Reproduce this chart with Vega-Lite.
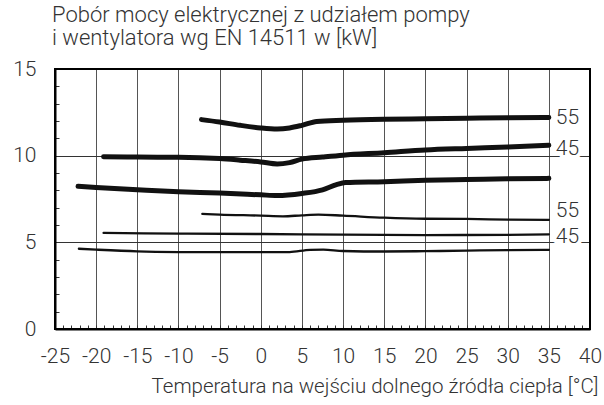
{
  "$schema": "https://vega.github.io/schema/vega-lite/v6.json",
  "width": 535,
  "height": 260,
  "autosize": {"type": "none"},
  "padding": {"left": 55, "top": 69, "right": 14, "bottom": 76},
  "background": "white",
  "title": {
    "text": ["Pobór mocy elektrycznej z udziałem pompy", "i wentylatora wg EN 14511 w [kW]"],
    "anchor": "start",
    "frame": "group",
    "fontSize": 22,
    "fontWeight": 300,
    "font": "Roboto",
    "color": "#333",
    "lineHeight": 23,
    "offset": 8,
    "dx": -3
  },
  "datasets": {
    "curves": [
      {"series": "A", "group": "thick", "x": -7.2, "y": 12.08},
      {"series": "A", "group": "thick", "x": -5, "y": 11.94},
      {"series": "A", "group": "thick", "x": -2.5, "y": 11.75},
      {"series": "A", "group": "thick", "x": 0, "y": 11.6},
      {"series": "A", "group": "thick", "x": 2, "y": 11.54},
      {"series": "A", "group": "thick", "x": 3.5, "y": 11.6},
      {"series": "A", "group": "thick", "x": 5, "y": 11.75},
      {"series": "A", "group": "thick", "x": 6.8, "y": 11.97},
      {"series": "A", "group": "thick", "x": 10, "y": 12.04},
      {"series": "A", "group": "thick", "x": 15, "y": 12.1},
      {"series": "A", "group": "thick", "x": 20, "y": 12.13},
      {"series": "A", "group": "thick", "x": 25, "y": 12.16},
      {"series": "A", "group": "thick", "x": 30, "y": 12.19},
      {"series": "A", "group": "thick", "x": 35, "y": 12.2},

      {"series": "B", "group": "thick", "x": -19.1, "y": 9.94},
      {"series": "B", "group": "thick", "x": -15, "y": 9.92},
      {"series": "B", "group": "thick", "x": -10, "y": 9.91},
      {"series": "B", "group": "thick", "x": -5, "y": 9.83},
      {"series": "B", "group": "thick", "x": -2.5, "y": 9.74},
      {"series": "B", "group": "thick", "x": 0, "y": 9.64},
      {"series": "B", "group": "thick", "x": 2, "y": 9.52},
      {"series": "B", "group": "thick", "x": 3.5, "y": 9.6},
      {"series": "B", "group": "thick", "x": 5, "y": 9.8},
      {"series": "B", "group": "thick", "x": 7.5, "y": 9.92},
      {"series": "B", "group": "thick", "x": 10, "y": 10.03},
      {"series": "B", "group": "thick", "x": 15, "y": 10.17},
      {"series": "B", "group": "thick", "x": 20, "y": 10.33},
      {"series": "B", "group": "thick", "x": 25, "y": 10.42},
      {"series": "B", "group": "thick", "x": 30, "y": 10.5},
      {"series": "B", "group": "thick", "x": 35, "y": 10.6},

      {"series": "C", "group": "thick", "x": -22.2, "y": 8.23},
      {"series": "C", "group": "thick", "x": -20, "y": 8.17},
      {"series": "C", "group": "thick", "x": -15, "y": 8.04},
      {"series": "C", "group": "thick", "x": -10, "y": 7.92},
      {"series": "C", "group": "thick", "x": -5, "y": 7.84},
      {"series": "C", "group": "thick", "x": 0, "y": 7.74},
      {"series": "C", "group": "thick", "x": 2, "y": 7.7},
      {"series": "C", "group": "thick", "x": 5, "y": 7.82},
      {"series": "C", "group": "thick", "x": 7.5, "y": 8.03},
      {"series": "C", "group": "thick", "x": 9.2, "y": 8.33},
      {"series": "C", "group": "thick", "x": 10.3, "y": 8.45},
      {"series": "C", "group": "thick", "x": 15, "y": 8.5},
      {"series": "C", "group": "thick", "x": 20, "y": 8.58},
      {"series": "C", "group": "thick", "x": 25, "y": 8.62},
      {"series": "C", "group": "thick", "x": 30, "y": 8.67},
      {"series": "C", "group": "thick", "x": 35, "y": 8.69},

      {"series": "D", "group": "thin", "x": -7.1, "y": 6.64},
      {"series": "D", "group": "thin", "x": -5, "y": 6.6},
      {"series": "D", "group": "thin", "x": 0, "y": 6.54},
      {"series": "D", "group": "thin", "x": 2.7, "y": 6.5},
      {"series": "D", "group": "thin", "x": 5, "y": 6.56},
      {"series": "D", "group": "thin", "x": 7, "y": 6.6},
      {"series": "D", "group": "thin", "x": 10, "y": 6.54},
      {"series": "D", "group": "thin", "x": 15, "y": 6.42},
      {"series": "D", "group": "thin", "x": 20, "y": 6.36},
      {"series": "D", "group": "thin", "x": 25, "y": 6.35},
      {"series": "D", "group": "thin", "x": 30, "y": 6.31},
      {"series": "D", "group": "thin", "x": 35, "y": 6.29},

      {"series": "E", "group": "thin", "x": -19.1, "y": 5.54},
      {"series": "E", "group": "thin", "x": -10, "y": 5.5},
      {"series": "E", "group": "thin", "x": 0, "y": 5.48},
      {"series": "E", "group": "thin", "x": 10, "y": 5.44},
      {"series": "E", "group": "thin", "x": 20, "y": 5.42},
      {"series": "E", "group": "thin", "x": 30, "y": 5.43},
      {"series": "E", "group": "thin", "x": 35, "y": 5.46},

      {"series": "F", "group": "thin", "x": -22.1, "y": 4.63},
      {"series": "F", "group": "thin", "x": -20, "y": 4.58},
      {"series": "F", "group": "thin", "x": -15, "y": 4.48},
      {"series": "F", "group": "thin", "x": -10, "y": 4.44},
      {"series": "F", "group": "thin", "x": -5, "y": 4.43},
      {"series": "F", "group": "thin", "x": 0, "y": 4.43},
      {"series": "F", "group": "thin", "x": 3.5, "y": 4.44},
      {"series": "F", "group": "thin", "x": 6, "y": 4.57},
      {"series": "F", "group": "thin", "x": 7.6, "y": 4.58},
      {"series": "F", "group": "thin", "x": 10, "y": 4.5},
      {"series": "F", "group": "thin", "x": 15, "y": 4.47},
      {"series": "F", "group": "thin", "x": 20, "y": 4.49},
      {"series": "F", "group": "thin", "x": 25, "y": 4.52},
      {"series": "F", "group": "thin", "x": 30, "y": 4.55},
      {"series": "F", "group": "thin", "x": 35, "y": 4.56}
    ],
    "labels": [
      {"label": "55", "x": 35, "y": 12.2},
      {"label": "45", "x": 35, "y": 10.4},
      {"label": "55", "x": 35, "y": 6.83},
      {"label": "45", "x": 35, "y": 5.31}
    ],
    "frame": [
      {"x0": -25, "x1": 40, "y0": 0, "y1": 15}
    ]
  },
  "layer": [
    {
      "data": {"name": "curves"},
      "transform": [{"filter": "datum.group === 'thick'"}],
      "mark": {"type": "line", "interpolate": "monotone", "strokeCap": "round", "strokeJoin": "round", "color": "#111", "strokeWidth": 5},
      "encoding": {
        "x": {
          "field": "x", "type": "quantitative",
          "scale": {"domain": [-25, 40], "nice": false, "zero": false},
          "axis": {
            "values": [-25,-24,-23,-22,-21,-20,-19,-18,-17,-16,-15,-14,-13,-12,-11,-10,-9,-8,-7,-6,-5,-4,-3,-2,-1,0,1,2,3,4,5,6,7,8,9,10,11,12,13,14,15,16,17,18,19,20,21,22,23,24,25,26,27,28,29,30,31,32,33,34,35,36,37,38,39,40],
            "tickCount": 200,
            "labelExpr": "datum.value % 5 === 0 ? '' + datum.value : ''",
            "labelOverlap": false,
            "labelFlush": false,
            "labelBound": false,
            "domain": true,
            "domainColor": "black",
            "domainWidth": 2,
            "ticks": true,
            "tickSize": -4,
            "tickColor": "#333",
            "tickWidth": 1,
            "grid": true,
            "gridColor": "#555",
            "gridWidth": 1,
            "gridOpacity": {"condition": {"test": "datum.value % 5 === 0 && datum.value > -25 && datum.value < 40", "value": 1}, "value": 0},
            "labelFont": "Roboto",
            "labelFontWeight": 300,
            "labelFontSize": 21,
            "labelColor": "#333",
            "labelPadding": 20,
            "title": "Temperatura na wejściu dolnego źródła ciepła [°C]",
            "titleFont": "Roboto",
            "titleFontWeight": 300,
            "titleFontSize": 20.5,
            "titleColor": "#333",
            "titleAlign": "right",
            "titleAnchor": "end",
            "titleBaseline": "alphabetic",
            "titleX": 543,
            "titleY": 63
          }
        },
        "y": {
          "field": "y", "type": "quantitative",
          "scale": {"domain": [0, 15], "nice": false},
          "axis": {
            "values": [0,1,2,3,4,5,6,7,8,9,10,11,12,13,14,15],
            "tickCount": 100,
            "labelExpr": "datum.value % 5 === 0 ? '' + datum.value : ''",
            "labelOverlap": false,
            "labelFlush": false,
            "labelBound": false,
            "domain": true,
            "domainColor": "black",
            "domainWidth": 2,
            "ticks": true,
            "tickSize": -4,
            "tickColor": "#333",
            "tickWidth": 1,
            "grid": true,
            "gridColor": "#333",
            "gridWidth": 1,
            "gridOpacity": {"condition": {"test": "datum.value === 5 || datum.value === 10", "value": 1}, "value": 0},
            "labelFont": "Roboto",
            "labelFontWeight": 300,
            "labelFontSize": 21,
            "labelColor": "#333",
            "labelPadding": 23,
            "title": null
          }
        },
        "detail": {"field": "series", "type": "nominal"}
      }
    },
    {
      "data": {"name": "curves"},
      "transform": [{"filter": "datum.group === 'thin'"}],
      "mark": {"type": "line", "interpolate": "monotone", "strokeCap": "round", "strokeJoin": "round", "color": "#111", "strokeWidth": 2.3},
      "encoding": {
        "x": {"field": "x", "type": "quantitative"},
        "y": {"field": "y", "type": "quantitative"},
        "detail": {"field": "series", "type": "nominal"}
      }
    },
    {
      "data": {"name": "labels"},
      "mark": {"type": "text", "align": "left", "baseline": "middle", "dx": 7, "fontSize": 21, "font": "Roboto", "fontWeight": 300, "fill": "white", "stroke": "white", "strokeWidth": 8, "strokeJoin": "round"},
      "encoding": {
        "x": {"field": "x", "type": "quantitative"},
        "y": {"field": "y", "type": "quantitative"},
        "text": {"field": "label", "type": "nominal"}
      }
    },
    {
      "data": {"name": "labels"},
      "mark": {"type": "text", "align": "left", "baseline": "middle", "dx": 7, "fontSize": 21, "font": "Roboto", "fontWeight": 300, "fill": "#333"},
      "encoding": {
        "x": {"field": "x", "type": "quantitative"},
        "y": {"field": "y", "type": "quantitative"},
        "text": {"field": "label", "type": "nominal"}
      }
    },
    {
      "data": {"name": "frame"},
      "mark": {"type": "rect", "fill": "transparent", "stroke": "black", "strokeWidth": 2},
      "encoding": {
        "x": {"field": "x0", "type": "quantitative"},
        "x2": {"field": "x1"},
        "y": {"field": "y0", "type": "quantitative"},
        "y2": {"field": "y1"}
      }
    }
  ]
}
